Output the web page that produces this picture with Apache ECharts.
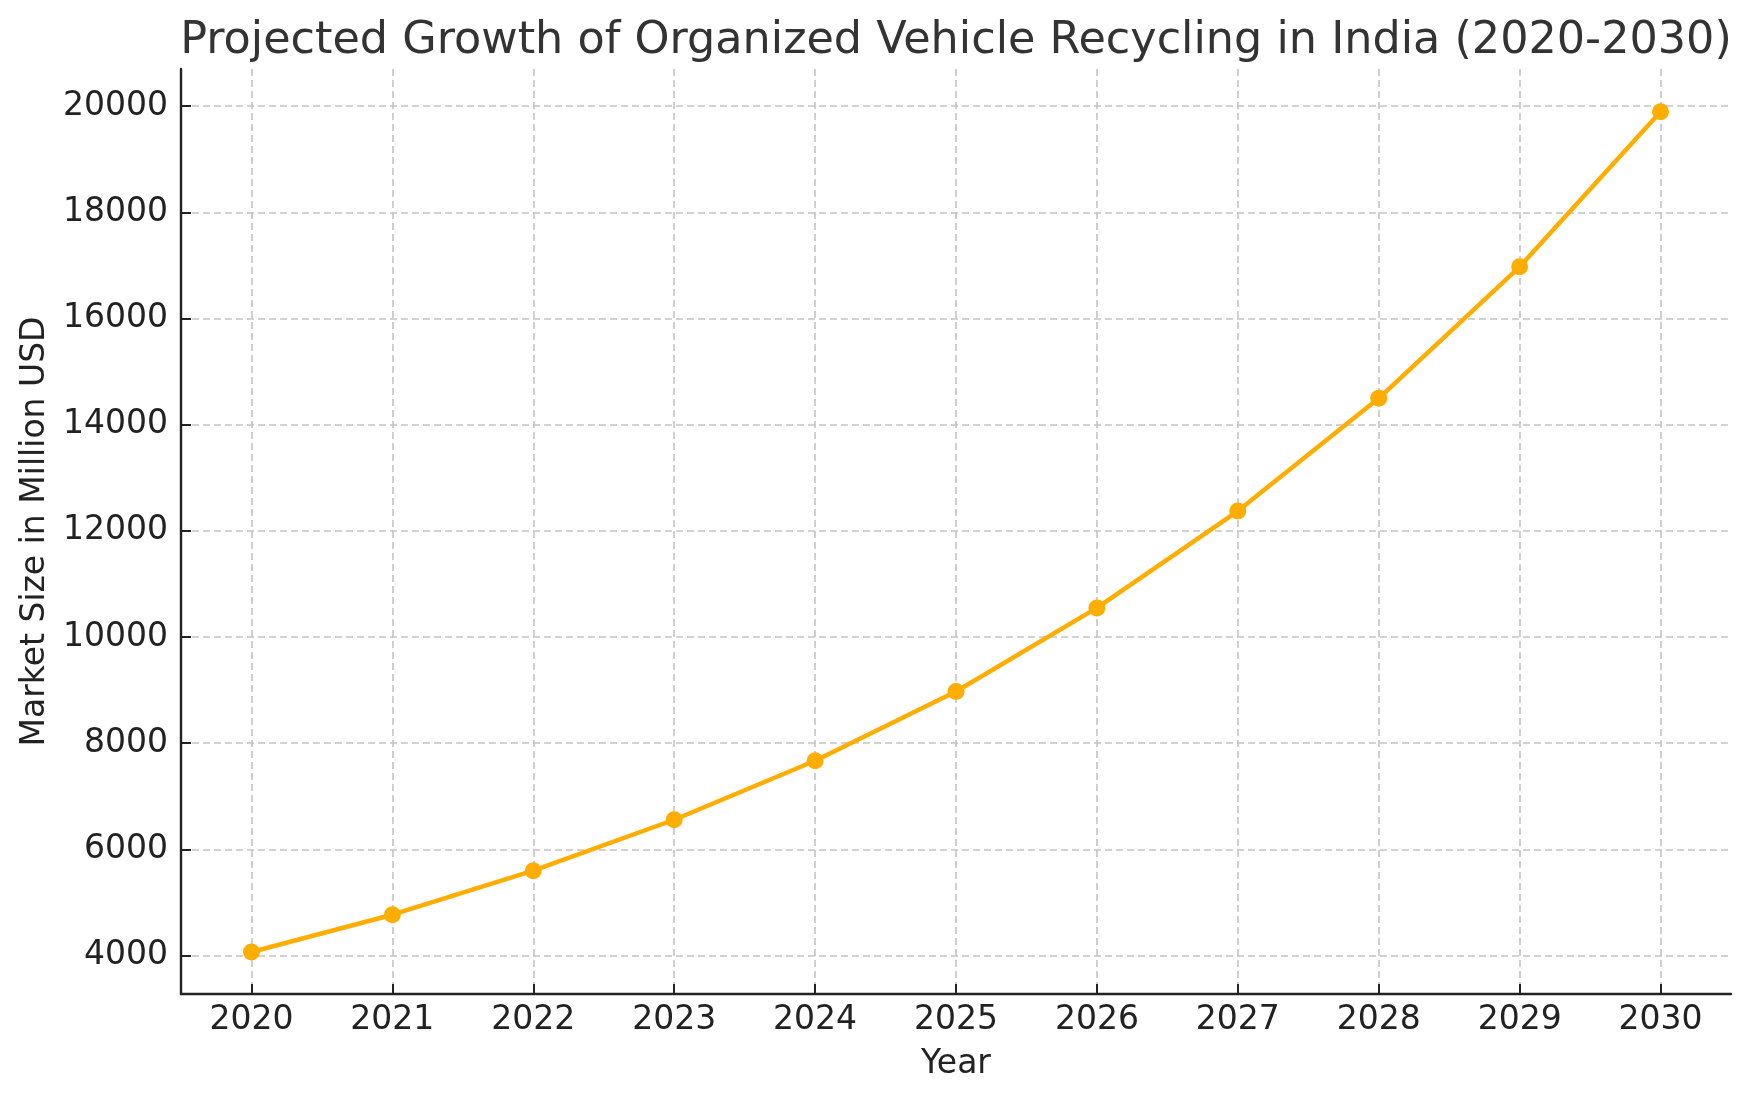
<!DOCTYPE html>
<html>
<head>
<meta charset="utf-8">
<script src="https://cdn.jsdelivr.net/npm/echarts@6/dist/echarts.min.js"></script>
<style>
html,body{margin:0;padding:0;background:#fff;}
#chart{width:1750px;height:1101px;}
</style>
</head>
<body>
<div id="chart"></div>
<script>
const years = [2020, 2021, 2022, 2023, 2024, 2025, 2026, 2027, 2028, 2029, 2030];
const marketSize = [4064, 4767, 5597, 6556, 7667, 8973, 10547, 12371, 14496, 16973, 19894];
const yTicks = [4000, 6000, 8000, 10000, 12000, 14000, 16000, 18000, 20000];
const titleText = 'Projected Growth of Organized Vehicle Recycling in India (2020-2030)';
const xName = 'Year';
const yName = 'Market Size in Million USD';

const FONT = 'DejaVu Sans';
const chart = echarts.init(document.getElementById('chart'));
const gridLine = {show: true, lineStyle: {color: '#c4c4c4', width: 1.6, type: [7, 4]}};
const option = {
  animation: false,
  backgroundColor: '#fff',
  graphic: [{
    type: 'text', x: 956, y: 41,
    style: {text: titleText, font: '44.5px "DejaVu Sans"', fill: '#333', textAlign: 'center', textVerticalAlign: 'middle'}
  }],
  grid: {left: 181, right: 19, top: 69, bottom: 107, containLabel: false},
  xAxis: {
    type: 'value', min: 2019.5, max: 2030.5,
    name: xName, nameLocation: 'middle', nameGap: 54,
    nameTextStyle: {fontFamily: FONT, fontSize: 33, color: '#222'},
    axisLine: {show: true, onZero: false, lineStyle: {color: '#222', width: 2.4}},
    axisTick: {show: true, inside: true, length: 10, customValues: years, lineStyle: {color: '#222', width: 2}},
    axisLabel: {customValues: years, formatter: v => String(v), fontFamily: FONT, fontSize: 33, color: '#222', margin: 10},
    splitLine: gridLine
  },
  yAxis: {
    type: 'value', min: 3273, max: 20700,
    name: yName, nameLocation: 'middle', nameGap: 126, nameRotate: 90,
    nameTextStyle: {fontFamily: FONT, fontSize: 33, color: '#222'},
    axisLine: {show: true, onZero: false, lineStyle: {color: '#222', width: 2.4}},
    axisTick: {show: true, inside: true, length: 10, customValues: yTicks, lineStyle: {color: '#222', width: 2}},
    axisLabel: {customValues: yTicks, formatter: v => String(v), fontFamily: FONT, fontSize: 33, color: '#222', margin: 13},
    splitLine: gridLine
  },
  series: [{
    type: 'line',
    data: years.map((y, i) => [y, marketSize[i]]),
    symbol: 'circle', symbolSize: 17,
    lineStyle: {color: '#ffad00', width: 4.5},
    itemStyle: {color: '#ffad00'}
  }]
};
chart.setOption(option);
</script>
</body>
</html>
